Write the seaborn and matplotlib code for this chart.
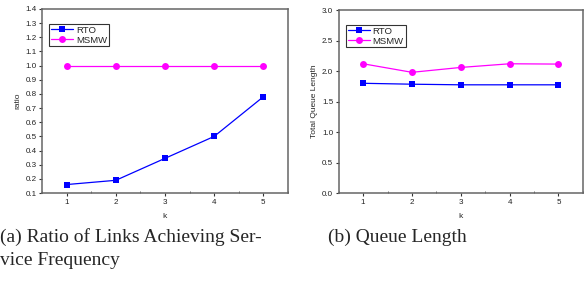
import matplotlib
matplotlib.use("Agg")
import matplotlib.pyplot as plt
from matplotlib.ticker import MultipleLocator, FormatStrFormatter
import pandas as pd
import seaborn as sns

# Данные
k_values = [1, 2, 3, 4, 5]
methods = ["RTO", "MSMW"]
ratio_rto = [0.16, 0.19, 0.345, 0.50, 0.78]
ratio_msmw = [1.0, 1.0, 1.0, 1.0, 1.0]
queue_rto = [1.80, 1.785, 1.775, 1.775, 1.775]
queue_msmw = [2.12, 1.98, 2.06, 2.12, 2.115]
caption_a = "(a) Ratio of Links Achieving Ser-\nvice Frequency"
caption_b = "(b) Queue Length"

sns.set_style("white")
plt.rcParams["font.family"] = ["Liberation Sans", "DejaVu Sans"]

palette = {"RTO": "#0000ff", "MSMW": "#ff00ff"}
markers = {"RTO": "s", "MSMW": "o"}


def make_df(rto, msmw):
    return pd.DataFrame({
        "k": k_values * 2,
        "value": list(rto) + list(msmw),
        "method": ["RTO"] * len(k_values) + ["MSMW"] * len(k_values),
    })


fig = plt.figure(figsize=(5.84, 2.81), dpi=100)
ax_a = fig.add_axes([0.072, 0.313, 0.421, 0.655])
ax_b = fig.add_axes([0.580, 0.313, 0.418, 0.651])

panels = [
    (ax_a, make_df(ratio_rto, ratio_msmw), "ratio", (0.1, 1.4), 0.1),
    (ax_b, make_df(queue_rto, queue_msmw), "Total Queue Length", (0.0, 3.0), 0.5),
]

for ax, df, ylabel, ylim, major in panels:
    sns.lineplot(data=df, x="k", y="value", hue="method", style="method",
                 hue_order=methods, palette=palette, markers=markers, dashes=False,
                 markersize=5, markeredgewidth=0, linewidth=0.9, ax=ax)
    ax.set_xlim(0.5, 5.5)
    ax.set_ylim(*ylim)
    ax.set_xticks(k_values)
    ax.yaxis.set_major_locator(MultipleLocator(major))
    ax.yaxis.set_major_formatter(FormatStrFormatter("%.1f"))
    ax.xaxis.set_minor_locator(MultipleLocator(0.5))
    ax.set_xlabel("k", fontsize=6, labelpad=5)
    ax.set_ylabel(ylabel, fontsize=6, labelpad=3)
    ax.tick_params(axis="both", which="major", direction="out", length=2.5,
                   width=0.8, labelsize=5.8, pad=1.5, color="#333333",
                   labelcolor="#222222", bottom=True, left=True)
    ax.tick_params(axis="both", which="minor", direction="in", length=1.5,
                   width=0.6, color="#555555", bottom=True, left=True)
    for spine in ax.spines.values():
        spine.set_color("#666666")
        spine.set_linewidth(1.1)
    # Легенда в стиле Origin
    leg = ax.legend(loc="upper left", bbox_to_anchor=(0.03, 0.92), fontsize=6.8,
                    frameon=True, fancybox=False, borderpad=0.2, labelspacing=0.1,
                    handlelength=2.3, handletextpad=0.3, borderaxespad=0)
    leg.get_frame().set_edgecolor("black")
    leg.get_frame().set_linewidth(0.8)

serif = ["Liberation Serif", "DejaVu Serif"]
fig.text(0.0, 0.187, caption_a, fontsize=14, family=serif,
         va="top", ha="left", linespacing=1.4)
fig.text(0.562, 0.187, caption_b, fontsize=14, family=serif, va="top", ha="left")

fig.savefig("out.png", dpi=100)
plt.close(fig)
